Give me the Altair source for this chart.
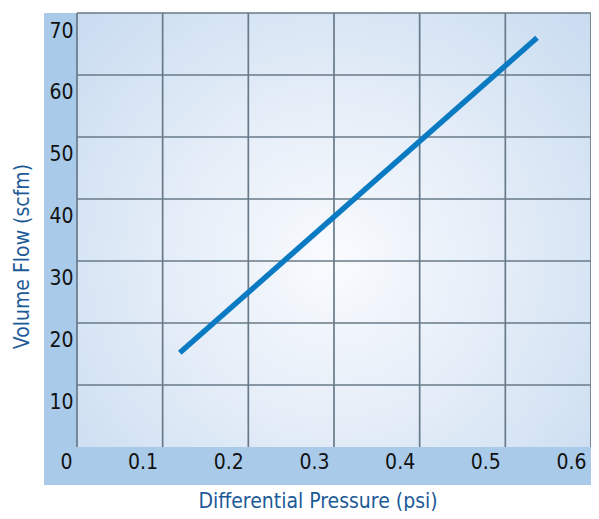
import altair as alt
import pandas as pd

# ---- data ----
x_ticks = [0, 0.1, 0.2, 0.3, 0.4, 0.5, 0.6]
y_ticks = [10, 20, 30, 40, 50, 60, 70]
line_x = [0.12, 0.537]
line_y = [15.2, 66.0]

X_MIN, X_MAX = -0.0385, 0.6
Y_MIN, Y_MAX = -6.13, 70

FONT = "Liberation Sans Narrow, DejaVu Sans Condensed, Roboto Condensed, Roboto, sans-serif"
BLUE_TEXT = "#1d5a98"

xs = alt.Scale(domain=[X_MIN, X_MAX], nice=False, zero=False)
ys = alt.Scale(domain=[Y_MIN, Y_MAX], nice=False, zero=False)

bg = pd.DataFrame({"x": [x_ticks[0]], "x2": [x_ticks[-1]], "y": [0], "y2": [y_ticks[-1]]})
grad = alt.Gradient(
    gradient="radial",
    stops=[
        alt.GradientStop(offset=0, color="#f9fbfe"),
        alt.GradientStop(offset=0.4, color="#e6eef8"),
        alt.GradientStop(offset=1, color="#c4d9ef"),
    ],
    x1=0.5, y1=0.56, x2=0.5, y2=0.56, r1=0, r2=0.75,
)

rect = alt.Chart(bg).mark_rect(fill=grad).encode(
    x=alt.X("x:Q", scale=xs,
            axis=alt.Axis(values=x_ticks, format="~g", orient="bottom", offset=-23,
                          ticks=False, domain=False, grid=False,
                          labelAlign="right", labelBaseline="middle", labelPadding=0,
                          labelOffset=-5, labelFont=FONT, labelFontSize=21, labelColor="#111111",
                          title="Differential Pressure (psi)", titleFont=FONT, titleFontSize=21,
                          titleFontWeight="normal", titleColor=BLUE_TEXT,
                          titleBaseline="alphabetic", titleY=45)),
    x2="x2:Q",
    y=alt.Y("y:Q", scale=ys,
            axis=alt.Axis(values=y_ticks, format="~g", orient="left", offset=-29,
                          ticks=False, domain=False, grid=False,
                          labelAlign="right", labelBaseline="middle", labelPadding=0,
                          labelOffset=18, labelFont=FONT, labelFontSize=21, labelColor="#111111",
                          title="Volume Flow (scfm)", titleFont=FONT, titleFontSize=21,
                          titleFontWeight="normal", titleColor=BLUE_TEXT,
                          titleBaseline="middle", titleX=-51, titleY=243)),
    y2="y2:Q",
)

vgrid_df = pd.DataFrame({"x": x_ticks, "y": [0] * len(x_ticks), "y2": [y_ticks[-1]] * len(x_ticks)})
hgrid_df = pd.DataFrame({"y": y_ticks, "x": [0] * len(y_ticks), "x2": [x_ticks[-1]] * len(y_ticks)})

GRID = "#687a89"
vgrid = alt.Chart(vgrid_df).mark_rule(color=GRID, strokeWidth=1.7).encode(
    x=alt.X("x:Q", scale=xs), y=alt.Y("y:Q", scale=ys), y2="y2:Q")
hgrid = alt.Chart(hgrid_df).mark_rule(color=GRID, strokeWidth=1.7).encode(
    y=alt.Y("y:Q", scale=ys), x=alt.X("x:Q", scale=xs), x2="x2:Q")

line_df = pd.DataFrame({"x": line_x, "y": line_y})
line = alt.Chart(line_df).mark_line(color="#0a7bc3", strokeWidth=5.5, strokeCap="butt").encode(
    x=alt.X("x:Q", scale=xs), y=alt.Y("y:Q", scale=ys))

chart = alt.layer(rect, vgrid, hgrid, line).properties(
    width=547, height=472,
    padding={"left": 36, "top": 5, "right": 0, "bottom": 26},
    autosize=alt.AutoSizeParams(type="none"),
).configure_view(fill="#a9cbe9", stroke=None)

chart.save("out.html", embed_options={"renderer": "svg", "actions": False})
